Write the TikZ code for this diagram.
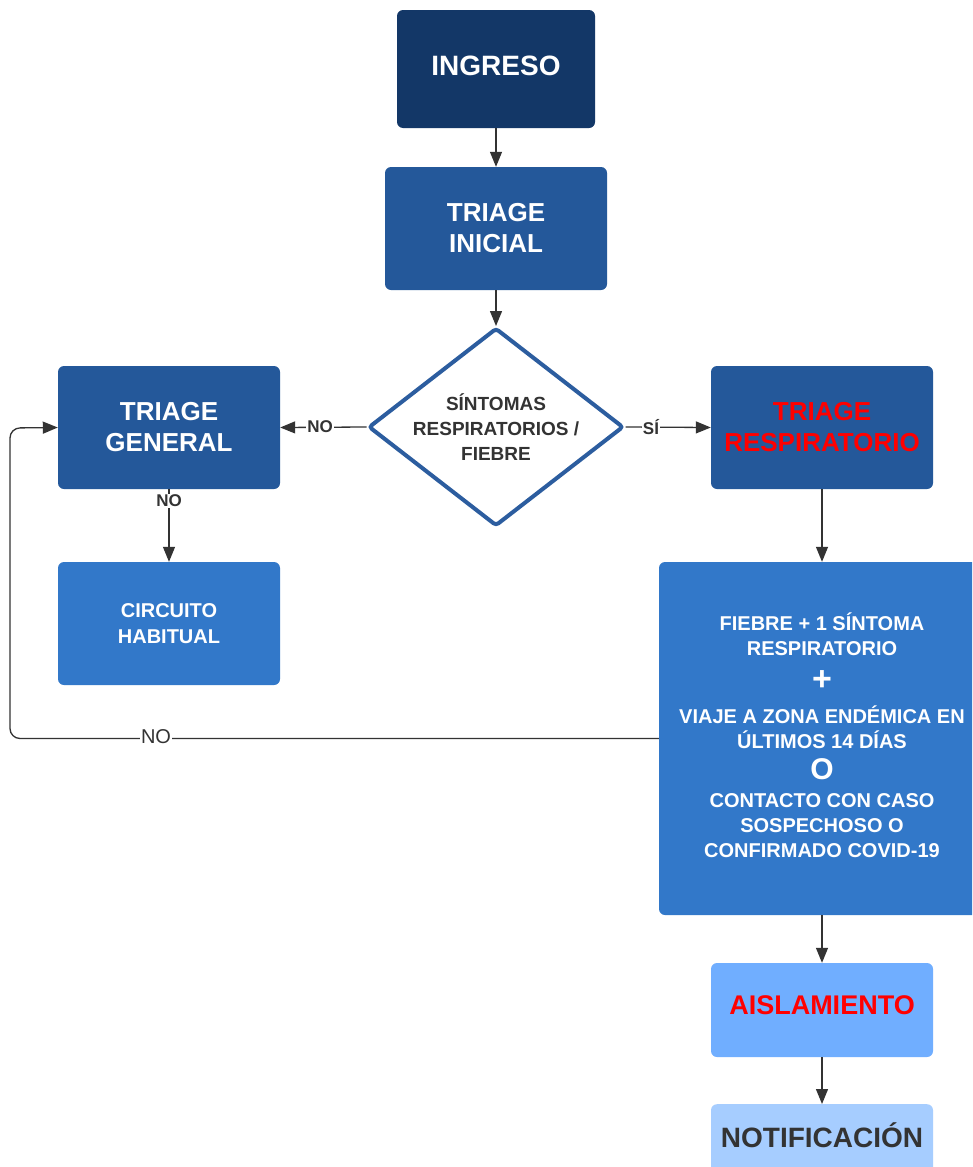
\documentclass[tikz,border=0pt]{standalone}
\usepackage{fontspec}
\setmainfont{Liberation Sans}
\usetikzlibrary{shapes.geometric,arrows.meta}
\definecolor{cIng}{HTML}{133767}
\definecolor{cTri}{HTML}{24589A}
\definecolor{cMid}{HTML}{3278C9}
\definecolor{cAis}{HTML}{70AEFF}
\definecolor{cNot}{HTML}{A6CDFF}
\definecolor{cDia}{HTML}{2C5D9F}
\definecolor{cDark}{HTML}{333333}
\definecolor{cRed}{HTML}{FF0000}
\begin{document}
\begin{tikzpicture}[x=1pt,y=-1pt,
  box/.style={rectangle, rounded corners=6pt, inner sep=0pt, align=center, text=white},
  tribox/.style={box, fill=cTri, minimum width=222pt, minimum height=123pt, font=\bfseries\fontsize{26}{31}\selectfont},
  conn/.style={draw=cDark, line width=1.3pt, -{Triangle[length=15pt,width=12pt]}},
  lbl/.style={fill=white, inner sep=1pt, text=cDark, font=\bfseries\fontsize{17}{20}\selectfont}]
\clip (0,0) rectangle (972,1167);
\fill[white] (0,0) rectangle (972,1167);

\node[box, fill=cIng, minimum width=198pt, minimum height=118pt] (ing) at (496,69) {};
\node[text=white, font=\bfseries\fontsize{28}{33}\selectfont] (ingt) at (496,66) {INGRESO};
\node[tribox] (ti) at (496,228.5) {TRIAGE\\INICIAL};
\node[diamond, draw=cDia, line width=4pt, fill=white, minimum width=255pt, minimum height=198pt, aspect=1.29, inner sep=0pt, rounded corners=3pt] (dia) at (496,427) {};
\node[align=center, text=cDark, font=\bfseries\fontsize{19}{25}\selectfont] (diat) at (dia.center) {SÍNTOMAS\\RESPIRATORIOS /\\FIEBRE};
\node[tribox] (tg) at (169,427.5) {TRIAGE\\GENERAL};
\node[tribox, text=cRed] (tr) at (822,427.5) {TRIAGE\\RESPIRATORIO};
\node[box, fill=cMid, minimum width=222pt, minimum height=123pt, font=\bfseries\fontsize{20}{26}\selectfont] (ch) at (169,623.5) {CIRCUITO\\HABITUAL};
\node[box, fill=cMid, minimum width=326pt, minimum height=353pt] (big) at (822,738.5) {};
\node[align=center, text=white, font=\bfseries\fontsize{20}{25}\selectfont] (bigt) at (822,735) {FIEBRE + 1 SÍNTOMA\\RESPIRATORIO\\[10pt]{\fontsize{34}{34}\selectfont +}\\[8pt]VIAJE A ZONA ENDÉMICA EN\\ÚLTIMOS 14 DÍAS\\[6pt]{\fontsize{30}{30}\selectfont O}\\[3pt]CONTACTO CON CASO\\SOSPECHOSO O\\CONFIRMADO COVID-19};
\node[box, fill=cAis, minimum width=222pt, minimum height=94pt] (ais) at (822,1010) {};
\node[text=cRed, font=\bfseries\fontsize{27}{32}\selectfont] (aist) at (822,1005) {AISLAMIENTO};
\node[box, fill=cNot, minimum width=222pt, minimum height=94pt, anchor=north] (notif) at (822,1104) {};
\node[text=cDark, font=\bfseries\fontsize{28}{33}\selectfont] (notift) at (822,1135) {NOTIFICACIÓN};

\coordinate (lc1) at (10,738.5);
\coordinate (lc2) at (10,428);

\draw[conn] (ing.south) -- (ti.north);
\draw[conn] (ti.south) -- (dia.north);
\draw[conn] (dia.west) -- (tg.east);
\draw[conn] (dia.east) -- (tr.west);
\draw[conn] (tg.south) -- (ch.north);
\draw[conn] (tr.south) -- (big.north);
\draw[conn, rounded corners=10pt] (big.west) -- (lc1) -- (lc2) -- (tg.west);
\draw[conn] (big.south) -- (ais.north);
\draw[conn] (ais.south) -- (notif.north);

\node[lbl] (noL) at (320,427) {NO};
\node[lbl] (si) at (651,427) {SÍ};
\node[lbl] (noD) at (169,501) {NO};
\node[lbl, font=\fontsize{20}{24}\selectfont] (noLoop) at (156,737) {NO};
\end{tikzpicture}
\end{document}
